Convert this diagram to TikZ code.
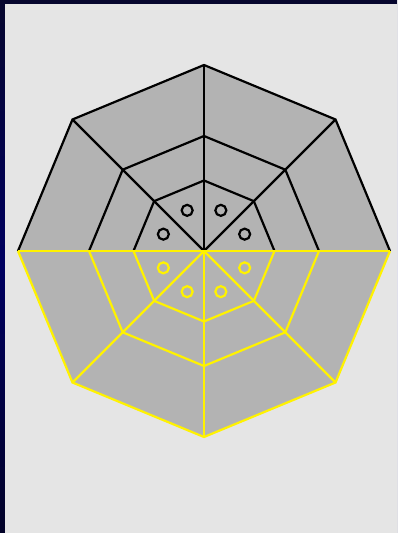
\documentclass[tikz,border=0pt]{standalone}
\usetikzlibrary{calc}
\definecolor{bggray}{HTML}{E5E5E5}
\definecolor{fillgray}{HTML}{B3B3B3}
\definecolor{navytop}{HTML}{06062E}
\definecolor{navymid}{HTML}{000060}
\definecolor{navybot}{HTML}{020228}
\definecolor{ylw}{HTML}{FFF200}
\tikzset{
  upline/.style={black, line width=2.2pt, line join=miter},
  lowline/.style={ylw, line width=2.2pt, line join=miter},
  dot/.style={circle, draw, line width=2.2pt, minimum size=11pt, inner sep=0pt},
}
\begin{document}
\begin{tikzpicture}[x=1pt,y=-1pt]
  \useasboundingbox (0,0) rectangle (397,533);
  \shade[top color=navytop, bottom color=navybot, middle color=navymid] (0,0) rectangle (397,533);
  \fill[bggray] (5,4) rectangle (397,533);
  \coordinate (c) at (204,251);
  % outer fill
  \fill[fillgray] ($(c)+(0:186)$) \foreach \a in {45,90,...,315} { -- ($(c)+(\a:186)$) } -- cycle;
  % upper half (black); y axis points down, so upper half has angles 180..360
  \foreach \r in {186,115,70.5} {
    \draw[upline] ($(c)+(180:\r)$) -- ($(c)+(225:\r)$) -- ($(c)+(270:\r)$) -- ($(c)+(315:\r)$) -- ($(c)+(360:\r)$);
  }
  \foreach \a in {225,270,315} {
    \draw[upline] (c) -- ($(c)+(\a:186)$);
  }
  \foreach \a in {202.5,247.5,292.5,337.5} {
    \node[dot, draw=black] at ($(c)+(\a:44)$) {};
  }
  % lower half (yellow)
  \foreach \r in {186,115,70.5} {
    \draw[lowline] ($(c)+(180:\r)$) -- ($(c)+(135:\r)$) -- ($(c)+(90:\r)$) -- ($(c)+(45:\r)$) -- ($(c)+(0:\r)$);
  }
  \draw[lowline] ($(c)+(180:186)$) -- ($(c)+(0:186)$);
  \foreach \a in {45,90,135} {
    \draw[lowline] (c) -- ($(c)+(\a:186)$);
  }
  \foreach \a in {22.5,67.5,112.5,157.5} {
    \node[dot, draw=ylw] at ($(c)+(\a:44)$) {};
  }
\end{tikzpicture}
\end{document}
